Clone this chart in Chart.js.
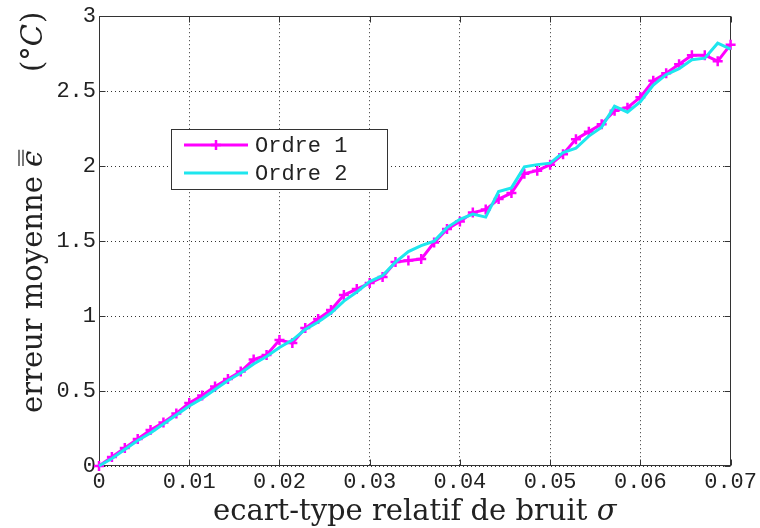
<!DOCTYPE html>
<html>
<head>
<meta charset="utf-8">
<script src="https://cdn.jsdelivr.net/npm/chart.js@4.4.0/dist/chart.umd.min.js"></script>
<style>
  html, body { margin: 0; padding: 0; background: #fff; }
  canvas { display: block; }
</style>
</head>
<body>
<canvas id="errChart" width="760" height="528"></canvas>
<script>
// relative noise level (50 samples from 0 to 0.07)
const sigma = [
  0, 0.00143, 0.00286, 0.00429, 0.00571, 0.00714, 0.00857, 0.01, 0.01143, 0.01286,
  0.01429, 0.01571, 0.01714, 0.01857, 0.02, 0.02143, 0.02286, 0.02429, 0.02571, 0.02714,
  0.02857, 0.03, 0.03143, 0.03286, 0.03429, 0.03571, 0.03714, 0.03857, 0.04, 0.04143,
  0.04286, 0.04429, 0.04571, 0.04714, 0.04857, 0.05, 0.05143, 0.05286, 0.05429, 0.05571,
  0.05714, 0.05857, 0.06, 0.06143, 0.06286, 0.06429, 0.06571, 0.06714, 0.06857, 0.07
];

// mean error (deg C), first order
const ordre1 = [
  0, 0.06, 0.12, 0.18, 0.24, 0.29, 0.35, 0.42, 0.47, 0.53,
  0.58, 0.63, 0.71, 0.74, 0.84, 0.82, 0.92, 0.98, 1.04, 1.14,
  1.18, 1.22, 1.26, 1.36, 1.37, 1.38, 1.49, 1.58, 1.63, 1.69,
  1.71, 1.78, 1.82, 1.95, 1.97, 2.01, 2.08, 2.18, 2.23, 2.28,
  2.37, 2.39, 2.46, 2.57, 2.62, 2.68, 2.74, 2.74, 2.70, 2.81
];

// mean error (deg C), second order
const ordre2 = [
  0, 0.05, 0.11, 0.17, 0.22, 0.28, 0.34, 0.40, 0.45, 0.51,
  0.57, 0.62, 0.68, 0.73, 0.79, 0.84, 0.91, 0.96, 1.02, 1.10,
  1.16, 1.23, 1.27, 1.36, 1.43, 1.47, 1.50, 1.59, 1.645, 1.68,
  1.66, 1.83, 1.855, 1.995, 2.01, 2.02, 2.09, 2.12, 2.20, 2.26,
  2.40, 2.36, 2.43, 2.54, 2.61, 2.65, 2.71, 2.72, 2.82, 2.78
];

const xTicks = [0, 0.01, 0.02, 0.03, 0.04, 0.05, 0.06, 0.07];
const xTickLabels = ['0', '0.01', '0.02', '0.03', '0.04', '0.05', '0.06', '0.07'];
const yTicks = [0, 0.5, 1, 1.5, 2, 2.5, 3];
const yTickLabels = ['0', '0.5', '1', '1.5', '2', '2.5', '3'];

const MONO = '"Liberation Mono", "DejaVu Sans Mono", monospace';
const SERIF = '"DejaVu Serif", serif';
const INK = '#222';

// box around the axes with inward tick marks on all four sides
const axesBox = {
    id: 'axesBox',
    beforeDatasetsDraw(chart) {
        const { ctx, chartArea: a, scales } = chart;
        const L = Math.round(a.left) + 0.5, R = Math.round(a.right) - 0.5;
        const T = Math.round(a.top) + 0.5, B = Math.round(a.bottom) - 0.5;
        ctx.save();
        ctx.strokeStyle = '#333';
        ctx.lineWidth = 1;
        ctx.beginPath();
        xTicks.forEach(v => {
            const px = Math.round(scales.x.getPixelForValue(v)) + 0.5;
            ctx.moveTo(px, B); ctx.lineTo(px, B - 6);
            ctx.moveTo(px, T); ctx.lineTo(px, T + 6);
        });
        yTicks.forEach(v => {
            const py = Math.round(scales.y.getPixelForValue(v)) + 0.5;
            ctx.moveTo(L, py); ctx.lineTo(L + 6, py);
            ctx.moveTo(R, py); ctx.lineTo(R - 6, py);
        });
        ctx.stroke();
        ctx.strokeRect(L, T, R - L, B - T);
        ctx.restore();
    }
};

// axis titles, with the math symbols set in italic
const axisTitles = {
    id: 'axisTitles',
    afterDraw(chart) {
        const ctx = chart.ctx;
        ctx.save();
        ctx.fillStyle = INK;
        ctx.textBaseline = 'alphabetic';
        ctx.textAlign = 'left';

        // x title
        ctx.font = `29px ${SERIF}`;
        const xt = 'ecart-type relatif de bruit ';
        ctx.fillText(xt, 213, 520);
        const w = ctx.measureText(xt).width;
        ctx.font = `italic 29px ${SERIF}`;
        ctx.fillText('σ', 213 + w, 520);

        // y title, reading bottom to top
        ctx.translate(42, 413);
        ctx.rotate(-Math.PI / 2);
        ctx.font = `29px ${SERIF}`;
        const yt = 'erreur moyenne ';
        ctx.fillText(yt, 0, 0);
        const ex = ctx.measureText(yt).width;
        ctx.font = `italic 29px ${SERIF}`;
        ctx.fillText('ϵ', ex, 0);
        const ew = ctx.measureText('ϵ').width;
        ctx.strokeStyle = INK;
        ctx.lineWidth = 1.2;
        ctx.beginPath();
        ctx.moveTo(ex + 1, -19); ctx.lineTo(ex + ew + 1, -19);
        ctx.moveTo(ex + 1, -23); ctx.lineTo(ex + ew + 1, -23);
        ctx.stroke();

        let cx = 341;
        ctx.font = `29px ${SERIF}`;
        ctx.fillText('(°', cx, 0);
        cx += ctx.measureText('(°').width;
        ctx.font = `italic 29px ${SERIF}`;
        ctx.fillText('C', cx, 0);
        cx += ctx.measureText('C').width + 1;
        ctx.font = `29px ${SERIF}`;
        ctx.fillText(')', cx, 0);
        ctx.restore();
    }
};

// boxed legend inside the plot
const boxLegend = {
    id: 'boxLegend',
    afterDraw(chart) {
        const ctx = chart.ctx;
        ctx.save();
        ctx.fillStyle = '#fff';
        ctx.fillRect(171, 129, 216, 60);
        ctx.strokeStyle = '#333';
        ctx.lineWidth = 1;
        ctx.strokeRect(171.5, 129.5, 216, 60);
        chart.data.datasets.forEach((ds, i) => {
            const y = 145 + i * 28;
            ctx.strokeStyle = ds.borderColor;
            ctx.lineWidth = ds.borderWidth;
            ctx.beginPath();
            ctx.moveTo(184, y); ctx.lineTo(248, y);
            ctx.stroke();
            if (ds.pointRadius > 0) {
                const r = ds.pointRadius;
                ctx.lineWidth = ds.pointBorderWidth;
                ctx.beginPath();
                ctx.moveTo(216 - r, y); ctx.lineTo(216 + r, y);
                ctx.moveTo(216, y - r); ctx.lineTo(216, y + r);
                ctx.stroke();
            }
            ctx.fillStyle = INK;
            ctx.font = `22px ${MONO}`;
            ctx.textBaseline = 'middle';
            ctx.fillText(ds.label, 255, y + 1);
        });
        ctx.restore();
    }
};

new Chart(document.getElementById('errChart'), {
    type: 'line',
    data: {
        datasets: [{
            label: 'Ordre 1',
            data: sigma.map((s, i) => ({ x: s, y: ordre1[i] })),
            borderColor: '#f0f',
            borderWidth: 3,
            pointStyle: 'cross',
            pointRadius: 5,
            pointBorderWidth: 2.5,
            pointBorderColor: '#f0f',
            tension: 0,
            clip: 8,
            order: 2
        }, {
            label: 'Ordre 2',
            data: sigma.map((s, i) => ({ x: s, y: ordre2[i] })),
            borderColor: '#1ee6ee',
            borderWidth: 3,
            pointRadius: 0,
            tension: 0,
            clip: 4,
            order: 1
        }]
    },
    options: {
        responsive: false,
        animation: false,
        devicePixelRatio: 1,
        layout: { padding: { left: 0, right: 28, top: 14, bottom: 0 } },
        plugins: {
            legend: { display: false },
            tooltip: { enabled: false }
        },
        scales: {
            x: {
                type: 'linear',
                min: 0,
                max: 0.07,
                afterBuildTicks: s => { s.ticks = xTicks.map(v => ({ value: v })); },
                afterFit: s => { s.height = 62; },
                ticks: {
                    callback: (v, i) => xTickLabels[i],
                    font: { family: MONO, size: 22 },
                    color: INK,
                    padding: 3,
                    maxRotation: 0,
                    autoSkip: false
                },
                grid: { color: '#333', lineWidth: 1, drawTicks: false },
                border: { display: false, dash: [1, 3] }
            },
            y: {
                min: 0,
                max: 3,
                afterBuildTicks: s => { s.ticks = yTicks.map(v => ({ value: v })); },
                afterFit: s => { s.width = 99; },
                ticks: {
                    callback: (v, i) => yTickLabels[i],
                    font: { family: MONO, size: 22 },
                    color: INK,
                    padding: 3,
                    autoSkip: false
                },
                grid: { color: '#333', lineWidth: 1, drawTicks: false },
                border: { display: false, dash: [1, 3] }
            }
        }
    },
    plugins: [axesBox, axisTitles, boxLegend]
});
</script>
</body>
</html>
